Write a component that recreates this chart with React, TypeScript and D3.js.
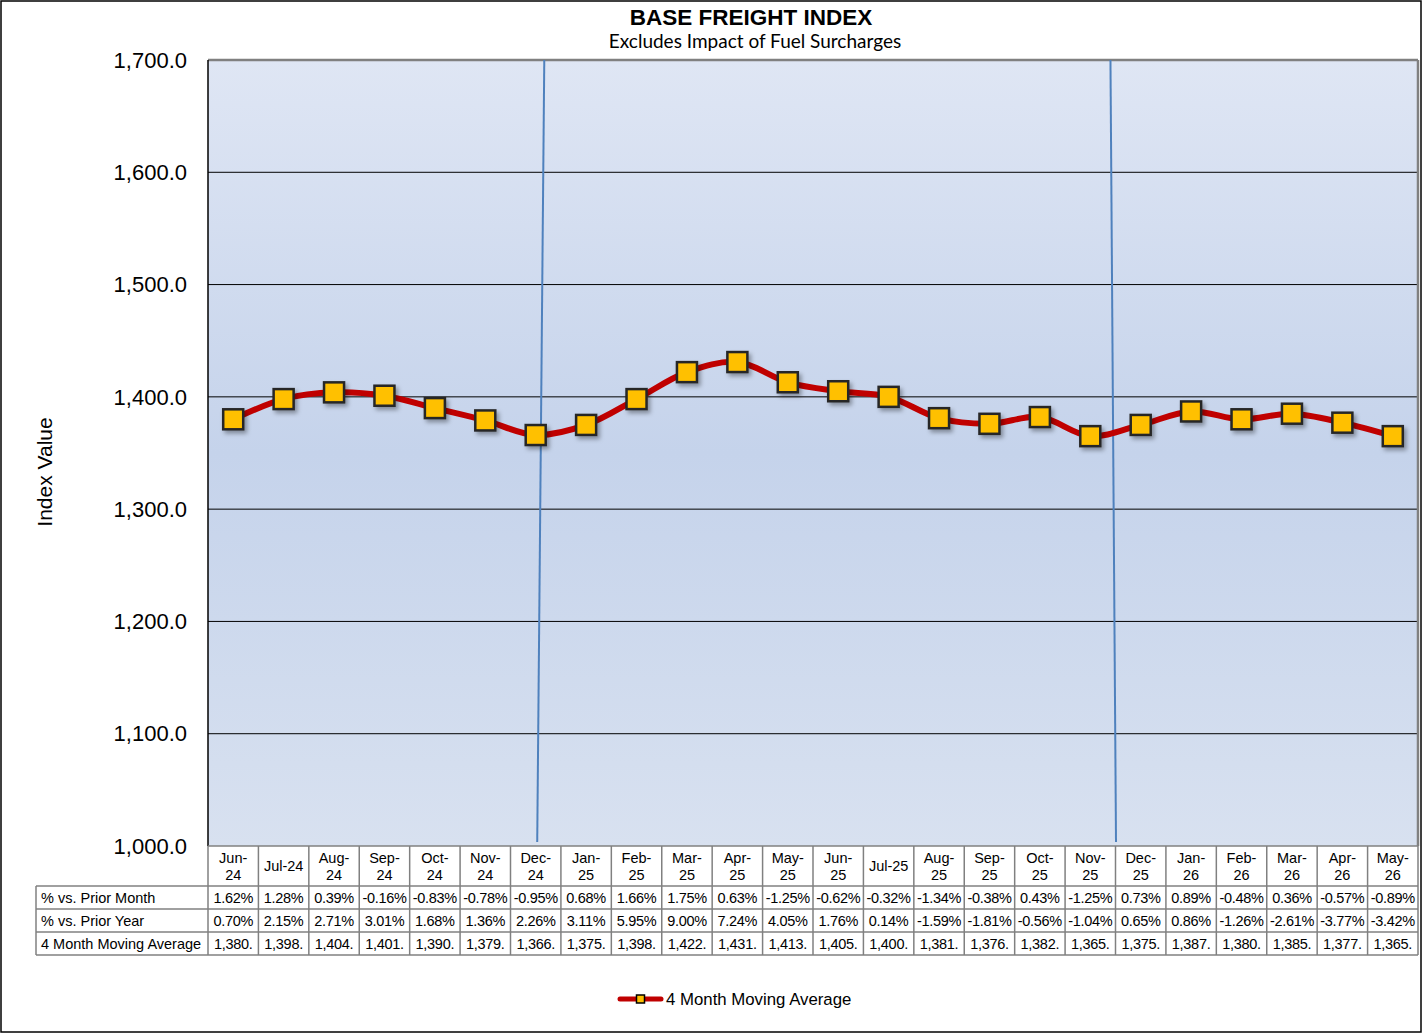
import React, { useEffect } from 'react';
import * as d3 from 'd3';

const months = [
  'Jun-24', 'Jul-24', 'Aug-24', 'Sep-24', 'Oct-24', 'Nov-24', 'Dec-24', 'Jan-25',
  'Feb-25', 'Mar-25', 'Apr-25', 'May-25', 'Jun-25', 'Jul-25', 'Aug-25', 'Sep-25',
  'Oct-25', 'Nov-25', 'Dec-25', 'Jan-26', 'Feb-26', 'Mar-26', 'Apr-26', 'May-26',
];

const movingAvg = [
  1380, 1398, 1404, 1401, 1390, 1379, 1366, 1375, 1398, 1422, 1431, 1413,
  1405, 1400, 1381, 1376, 1382, 1365, 1375, 1387, 1380, 1385, 1377, 1365,
];

const priorMonth = [
  '1.62%', '1.28%', '0.39%', '-0.16%', '-0.83%', '-0.78%', '-0.95%', '0.68%',
  '1.66%', '1.75%', '0.63%', '-1.25%', '-0.62%', '-0.32%', '-1.34%', '-0.38%',
  '0.43%', '-1.25%', '0.73%', '0.89%', '-0.48%', '0.36%', '-0.57%', '-0.89%',
];

const priorYear = [
  '0.70%', '2.15%', '2.71%', '3.01%', '1.68%', '1.36%', '2.26%', '3.11%',
  '5.95%', '9.00%', '7.24%', '4.05%', '1.76%', '0.14%', '-1.59%', '-1.81%',
  '-0.56%', '-1.04%', '0.65%', '0.86%', '-1.26%', '-2.61%', '-3.77%', '-3.42%',
];

const yTicks = [1000, 1100, 1200, 1300, 1400, 1500, 1600, 1700];

// year dividers, in category units (top end, bottom end)
const dividers = [
  [6.67, 6.53],
  [17.9, 18.01],
];

const W = 1423;
const H = 1034;
const plot = { left: 208, right: 1418, top: 60, bottom: 846 };
const tableLeft = 36;
const headerH = 40;
const rowH = 23;
const FONT = 'Liberation Sans, Arial, sans-serif';

const App: React.FC = () => {
  useEffect(() => {
    document.body.style.margin = '0';
  }, []);

  const x = d3.scaleLinear().domain([0, months.length]).range([plot.left, plot.right]);
  const y = d3.scaleLinear().domain([1000, 1700]).range([plot.bottom, plot.top]);
  const cx = (i: number) => x(i + 0.5);
  const fmtTick = d3.format(',.1f');
  const fmtAvg = (v: number) => `${d3.format(',')(Math.floor(v))}.`;

  const line = d3
    .line<number>()
    .x((_, i) => cx(i))
    .y(d => y(d))
    .curve(d3.curveCatmullRom.alpha(0.5));

  const rows = [
    { label: '% vs. Prior Month', values: priorMonth },
    { label: '% vs. Prior Year', values: priorYear },
    { label: '4 Month Moving Average', values: movingAvg.map(fmtAvg) },
  ];

  const tableTop = plot.bottom;
  const rowsTop = tableTop + headerH;
  const tableBottom = rowsTop + rows.length * rowH;

  return (
    <svg width={W} height={H} style={{ display: 'block' }} fontFamily={FONT}>
      <defs>
        <linearGradient id="plotBg" x1="0" y1="0" x2="0" y2="1">
          <stop offset="0" stopColor="#dfe6f4" />
          <stop offset="0.5" stopColor="#c5d3eb" />
          <stop offset="1" stopColor="#d8e1f0" />
        </linearGradient>
        <filter id="shadow" x="-50%" y="-50%" width="200%" height="200%">
          <feDropShadow dx="2.5" dy="3" stdDeviation="2" floodColor="#000" floodOpacity="0.35" />
        </filter>
      </defs>

      <rect x={1} y={1} width={W - 3} height={H - 3} fill="#fff" stroke="#000" strokeWidth={1.5} />

      {/* title */}
      <text x={751} y={25} textAnchor="middle" fontSize={22.5} fontWeight="bold" fill="#000">
        BASE FREIGHT INDEX
      </text>
      <text x={755} y={48} textAnchor="middle" fontSize={19} fontFamily="Lato, 'Open Sans', sans-serif" fill="#000">
        Excludes Impact of Fuel Surcharges
      </text>

      {/* plot area */}
      <rect
        x={plot.left}
        y={plot.top}
        width={plot.right - plot.left}
        height={plot.bottom - plot.top}
        fill="url(#plotBg)"
      />
      {yTicks.slice(1, -1).map(t => (
        <line key={t} x1={plot.left} x2={plot.right} y1={y(t)} y2={y(t)} stroke="#000" strokeWidth={1} />
      ))}
      <line x1={plot.left} x2={plot.right} y1={plot.top} y2={plot.top} stroke="#808080" strokeWidth={2.5} />
      <line x1={plot.right} x2={plot.right} y1={plot.top} y2={plot.bottom} stroke="#808080" strokeWidth={2.5} />
      <line x1={plot.left} x2={plot.left} y1={plot.top} y2={plot.bottom} stroke="#000" strokeWidth={1.5} />

      {dividers.map(([t, b], i) => (
        <line
          key={i}
          x1={x(t)}
          x2={x(b)}
          y1={plot.top}
          y2={plot.bottom - 4}
          stroke="#4f81bd"
          strokeWidth={2}
        />
      ))}

      {/* y axis labels */}
      {yTicks.map(t => (
        <text key={t} x={187} y={y(t)} dy="0.35em" textAnchor="end" fontSize={22} fill="#000">
          {fmtTick(t)}
        </text>
      ))}
      <text transform="translate(52,472) rotate(-90)" textAnchor="middle" fontSize={21} fill="#000">
        Index Value
      </text>

      {/* series */}
      <path d={line(movingAvg) ?? ''} fill="none" stroke="#c00000" strokeWidth={6} strokeLinejoin="round" />
      {movingAvg.map((v, i) => (
        <rect
          key={i}
          x={cx(i) - 10}
          y={y(v) - 10}
          width={20}
          height={20}
          fill="#ffc000"
          stroke="#262626"
          strokeWidth={2.5}
          filter="url(#shadow)"
        />
      ))}

      {/* data table */}
      <g stroke="#808080" strokeWidth={1.5} fill="none">
        <line x1={plot.left} x2={plot.right} y1={tableTop} y2={tableTop} />
        <line x1={tableLeft} x2={plot.right} y1={rowsTop} y2={rowsTop} />
        {rows.map((_, r) => (
          <line key={r} x1={tableLeft} x2={plot.right} y1={rowsTop + (r + 1) * rowH} y2={rowsTop + (r + 1) * rowH} />
        ))}
        <line x1={tableLeft} x2={tableLeft} y1={rowsTop} y2={tableBottom} />
        {d3.range(months.length + 1).map(i => (
          <line key={i} x1={x(i)} x2={x(i)} y1={tableTop} y2={tableBottom} />
        ))}
      </g>

      {months.map((m, i) => {
        const [mon, yr] = m.split('-');
        const single = mon === 'Jul';
        return single ? (
          <text key={m} x={cx(i)} y={tableTop + headerH / 2} dy="0.35em" textAnchor="middle" fontSize={14.5} fill="#000">
            {m}
          </text>
        ) : (
          <text key={m} x={cx(i)} textAnchor="middle" fontSize={14.5} fill="#000">
            <tspan x={cx(i)} y={tableTop + 17}>{mon}-</tspan>
            <tspan x={cx(i)} y={tableTop + 34}>{yr}</tspan>
          </text>
        );
      })}

      {rows.map((row, r) => (
        <g key={row.label}>
          <text x={tableLeft + 5} y={rowsTop + r * rowH + rowH / 2} dy="0.35em" fontSize={14.5} fill="#000">
            {row.label}
          </text>
          {row.values.map((v, i) => (
            <text
              key={i}
              x={cx(i)}
              y={rowsTop + r * rowH + rowH / 2}
              dy="0.35em"
              textAnchor="middle"
              fontSize={14.5}
              fill="#000"
              letterSpacing={-0.3}
            >
              {v}
            </text>
          ))}
        </g>
      ))}

      {/* legend */}
      <line x1={620} x2={661} y1={999} y2={999} stroke="#c00000" strokeWidth={5} strokeLinecap="round" />
      <rect x={636.5} y={995} width={8} height={8} fill="#ffc000" stroke="#000" strokeWidth={1.5} />
      <text x={666} y={999} dy="0.35em" fontSize={16.8} fill="#000">
        4 Month Moving Average
      </text>
    </svg>
  );
};

export default App;
